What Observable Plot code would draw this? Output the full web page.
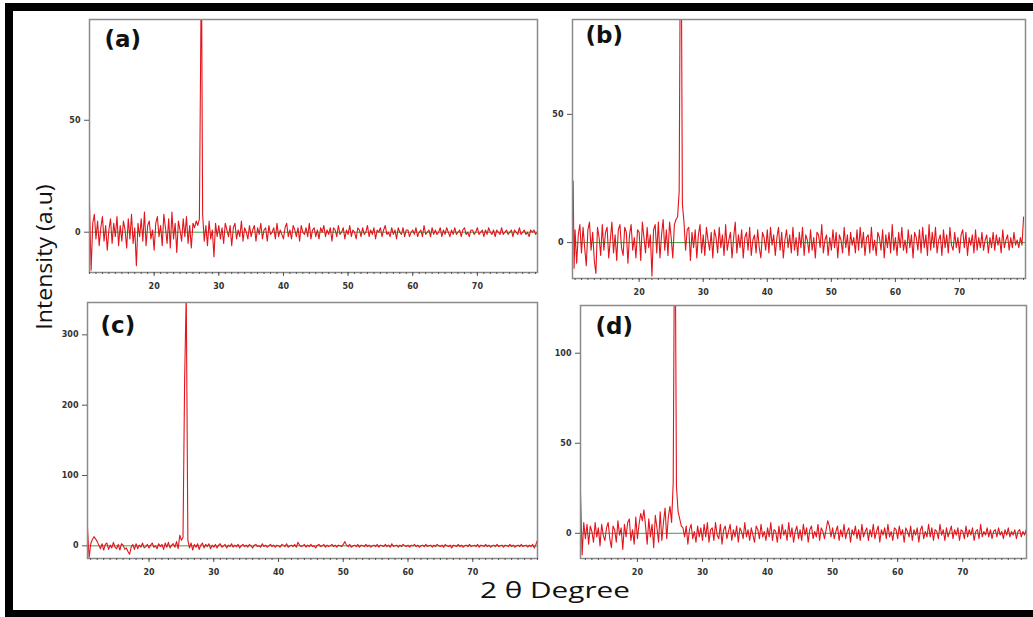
<!DOCTYPE html>
<html>
<head>
<meta charset="utf-8">
<script src="https://cdn.jsdelivr.net/npm/d3@7"></script>
<script src="https://cdn.jsdelivr.net/npm/@observablehq/plot@0.6"></script>
<style>
  html, body { margin: 0; padding: 0; background: #fff; overflow: hidden; }
  #root { position: relative; width: 1033px; height: 617px; background: #fff; overflow: hidden; }
  #border { position: absolute; left: 5px; top: 3px; width: 1200px; height: 599px;
            border-left: 8px solid #000; border-top: 8px solid #000; border-bottom: 7px solid #000; }
  .panel { position: absolute; }
  #titles { position: absolute; left: 0; top: 0; pointer-events: none; }
</style>
</head>
<body>
<div id="root">
  <div id="border"></div>
</div>
<script>
// 2θ sampling grid (degrees), 0.25° step from 10 to 80
const twoTheta = d3.range(10, 80.1, 0.25);

// Intensities (a.u.), one value per grid point (rows = 5°)
const intensityA = [
  12,-17,4,8,-3,5,-6,2,7,-4,3,-8,1,6,-5,4,-2,7,-6,3,
  -4,5,1,-7,6,-3,8,-5,2,-15,4,-2,6,-4,9,-6,3,5,-3,1,
  -8,4,7,-2,3,-6,8,2,-5,6,-7,9,-3,4,-9,5,1,-4,6,-2,
  7,-5,3,-7,4,2,5,3,6,100,8,-4,3,-6,5,-3,1,-11,4,-2,
  3,-3,2,-5,4,1,-2,3,-6,2,4,-3,1,-2,5,-4,2,0,-3,3,
  -2,1,3,-4,2,-1,4,-3,1,2,-4,3,-1,0,2,-3,4,-2,1,-1,
  -3,2,4,-2,1,-3,3,1,-2,2,-4,3,0,-1,2,-2,4,-3,1,2,
  -2,1,-3,2,0,3,-2,1,-1,2,-4,2,1,-2,3,-1,0,2,-3,1,
  -1,3,-2,1,0,-3,2,1,-2,2,-1,0,3,-2,1,-1,2,-3,1,0,
  2,-2,1,3,-1,0,-2,2,-1,1,-3,2,0,-1,2,-2,1,1,-2,0,
  1,-1,2,-2,0,1,-2,3,-1,0,1,-2,2,-1,1,-1,0,2,-2,1,
  -1,2,0,-2,1,-1,2,-1,0,1,-2,1,2,-1,0,-2,1,1,-1,0,
  2,-1,0,1,-2,1,-1,2,0,-1,1,-2,1,0,-1,2,-1,0,1,-1,
  0,1,-2,1,0,-1,2,-1,0,1,-1,0,-2,1,0,1,-1,0,1,-1,
  0
];
const intensityB = [
  5,-8,3,7,-4,6,-2,-9,5,8,-3,4,-7,-12,6,2,-5,7,-3,4,
  6,-6,1,8,-4,3,-7,5,7,-2,-5,6,4,-8,3,7,-3,2,-6,5,
  4,-7,8,2,-4,6,-2,3,-13,5,7,-4,8,-6,3,9,-3,5,-5,8,
  2,-6,7,9,10,20,100,15,8,-3,5,6,-7,4,-2,5,-6,3,7,-4,
  3,-5,6,1,-3,4,-6,5,2,-4,6,-2,3,-5,7,-3,1,4,-6,2,
  8,-4,3,-2,5,-6,2,4,-3,6,-5,1,3,-4,5,-2,-6,4,2,-3,
  5,-4,6,-1,3,-5,2,6,-3,4,-6,1,5,-2,3,-4,6,-3,2,-5,
  4,-2,6,-5,3,1,-4,5,-3,2,-6,4,3,-2,7,-4,1,3,-5,2,
  -3,5,-2,4,-6,3,1,-4,6,-2,3,-5,4,-1,2,-4,5,-3,6,-2,
  4,-5,2,3,-4,6,-3,1,-5,4,2,-3,5,-6,3,-2,4,-4,7,-3,
  2,-5,4,-2,6,-3,1,-4,5,-2,3,-6,4,2,-3,5,-4,6,-2,3,
  -5,7,-3,4,-2,6,-4,1,3,-5,5,-2,3,-4,6,-1,-3,4,-2,2,
  -4,3,5,-2,4,-5,2,-1,3,-4,5,-3,2,-2,4,-3,1,3,-4,2,
  -2,4,-3,3,-1,2,-4,5,-2,1,3,-3,2,-2,4,-1,1,-2,2,-1,
  10
];
const intensityC = [
  0,0,25,-17,3,9,13,10,6,1,-4,3,-6,2,4,-5,1,-3,5,-2,
  -4,2,-6,3,1,-5,-3,-8,-12,-2,2,-5,3,-4,1,-2,4,-3,-1,2,
  -3,1,4,-2,0,-4,3,-1,2,-5,4,-2,5,-3,1,3,-2,6,-4,15,
  8,12,235,360,8,-3,4,-6,2,-2,3,-5,1,4,-3,2,-1,3,-4,1,
  -2,2,-3,1,3,-2,0,2,-3,1,-1,3,-2,1,-1,2,-3,0,2,-1,
  1,-2,2,0,-3,1,2,-1,0,-2,3,-1,1,-2,0,2,-1,1,-2,1,
  0,-2,2,1,-1,3,-2,0,1,-1,2,-2,5,1,-1,0,2,-2,1,-1,
  2,-1,0,-3,1,2,-1,0,2,-2,1,-1,0,2,-1,1,-2,1,0,-1,
  2,6,1,-1,2,-2,0,1,-1,2,-2,1,0,-1,2,-1,1,-2,0,1,
  -1,2,-2,1,0,-1,2,-1,1,-2,3,-1,0,1,-2,1,-1,2,0,-1,
  1,-2,1,0,2,-1,1,-2,0,1,-1,2,-1,0,1,-2,1,-1,2,0,
  -1,1,-2,2,0,-1,1,-3,1,0,-1,2,-1,1,-2,0,1,-1,2,-1,
  0,1,-1,2,-2,1,0,-1,2,-1,1,-2,0,1,-1,2,-1,0,1,-2,
  1,0,-1,2,-1,1,-2,0,1,-1,2,-1,0,1,-2,1,-1,2,-3,2,
  8
];
const intensityD = [
  0,0,0,0,0,22,-12,6,-3,5,-6,4,1,-5,6,-2,3,-7,5,-1,
  -4,3,6,-3,-8,4,2,-5,7,-1,3,-9,5,-2,6,8,-4,2,-6,9,
  -3,5,11,7,13,4,-6,8,-2,5,-8,10,3,-5,12,-4,6,14,-3,9,
  15,6,28,135,26,12,8,4,3,-2,4,-6,2,5,-3,1,-5,4,-2,3,
  -4,5,-2,6,-5,2,3,-4,6,-1,-3,5,-6,2,4,-3,1,5,-4,2,
  -2,4,-5,3,1,-3,6,-2,2,-4,3,-1,-5,4,2,-3,5,-2,1,-4,
  3,-2,6,-4,2,1,-5,4,-3,5,-1,2,-4,6,-2,3,-5,1,4,-3,
  2,-4,5,-1,3,-5,2,4,-3,1,-2,5,-4,3,1,-3,2,7,4,-2,
  3,-3,1,4,-4,2,-2,5,-3,1,3,-5,2,-1,4,-3,2,-4,5,-2,
  1,3,-4,2,-2,5,-3,1,4,-5,2,-1,3,-3,5,-2,1,-4,3,2,
  -3,4,-1,2,-5,3,1,-2,4,-4,2,-1,3,-5,2,4,-3,1,-2,5,
  -2,3,-4,2,1,-3,5,-1,2,-4,3,-2,1,4,-3,2,-1,3,-4,2,
  1,-3,4,-2,2,-1,3,-4,1,2,-3,5,-2,1,-1,3,-2,2,-3,1,
  2,-2,3,-1,1,-3,2,-1,3,-2,1,-1,2,-3,1,2,-2,1,-1,2,
  0
];

// Extra off-grid readings (2θ, intensity): edge spikes and peak tops
const extraA = [[27.35, 100]];
const extraB = [[9.7, 24], [9.85, -10], [26.4, 100], [26.6, 100]];
const extraC = [];
const extraD = [[25.65, 135], [25.85, 135]];

const panelLabels = ["(a)", "(b)", "(c)", "(d)"];
const xTickLabels = [20, 30, 40, 50, 60, 70];
const yTicksA = [0, 50];
const yTicksB = [0, 50];
const yTicksC = [0, 100, 200, 300];
const yTicksD = [0, 50, 100];

function series(values, extra) {
  if (values.length !== twoTheta.length) throw new Error("length " + values.length + " vs " + twoTheta.length);
  return values.map((v, i) => ({t: twoTheta[i], v}))
    .concat(extra.map(([t, v]) => ({t, v})))
    .sort((a, b) => a.t - b.t);
}

const ML = 45, MT = 5, MR = 5, MB = 30;

function panel({frame, xDomain, yDomain, data, yTicks, label, ldx, ldy}) {
  const [L, T, R, B] = frame;
  const width = (R - L) + ML + MR;
  const height = (B - T) + MT + MB;
  const minor = d3.range(Math.ceil(xDomain[0]), Math.floor(xDomain[1]) + 1);
  const chart = Plot.plot({
    width, height,
    marginLeft: ML, marginTop: MT, marginRight: MR, marginBottom: MB,
    x: {domain: xDomain},
    y: {domain: yDomain},
    style: {background: "transparent", fontFamily: "DejaVu Sans", fontSize: "8px", fontWeight: "bold", color: "#333", overflow: "visible"},
    marks: [
      Plot.ruleY([0], {stroke: "#3f9f3f", strokeWidth: 1}),
      Plot.line(data, {x: "t", y: "v", stroke: "#e3141c", strokeWidth: 1.1, clip: true}),
      Plot.frame({stroke: "#8a8a8a", strokeWidth: 1.5}),
      Plot.axisX({ticks: minor, tickSize: 2, text: null, label: null, stroke: "#555"}),
      Plot.axisX({ticks: xTickLabels, tickSize: 4, tickPadding: 7, label: null, stroke: "#555", fill: "#333"}),
      Plot.axisY({ticks: yTicks, tickSize: 5, tickPadding: 4, label: null, stroke: "#555", fill: "#333"}),
      Plot.text([label], {frameAnchor: "top-left", textAnchor: "start", lineAnchor: "top",
        dx: ldx, dy: ldy, fontSize: 23, fontWeight: "bold", fontFamily: "DejaVu Sans", fill: "#111"})
    ]
  });
  const wrap = document.createElement("div");
  wrap.className = "panel";
  wrap.style.left = (L - ML) + "px";
  wrap.style.top = (T - MT) + "px";
  wrap.appendChild(chart);
  document.getElementById("root").appendChild(wrap);
}

panel({frame: [89, 19, 537, 272], xDomain: [10, 79.3], yDomain: [-18, 95],
  data: series(intensityA, extraA), yTicks: yTicksA, label: panelLabels[0], ldx: 15, ldy: 11});
panel({frame: [572, 19, 1025, 278], xDomain: [9.6, 80.3], yDomain: [-14, 87],
  data: series(intensityB, extraB), yTicks: yTicksB, label: panelLabels[1], ldx: 13, ldy: 7});
panel({frame: [87, 302, 537, 558], xDomain: [10.5, 80], yDomain: [-18, 346],
  data: series(intensityC, extraC), yTicks: yTicksC, label: panelLabels[2], ldx: 13, ldy: 14});
panel({frame: [580, 305, 1026, 558], xDomain: [11.25, 79.8], yDomain: [-14, 126.5],
  data: series(intensityD, extraD), yTicks: yTicksD, label: panelLabels[3], ldx: 15, ldy: 12});

// Axis titles
const svgNS = "http://www.w3.org/2000/svg";
const titles = document.createElementNS(svgNS, "svg");
titles.setAttribute("id", "titles");
titles.setAttribute("width", 1033);
titles.setAttribute("height", 617);
function addText(str, x, y, rot, sx) {
  const t = document.createElementNS(svgNS, "text");
  t.textContent = str;
  t.setAttribute("text-anchor", "middle");
  t.setAttribute("font-family", "Open Sans");
  t.setAttribute("font-size", "22");
  t.setAttribute("fill", "#111");
  t.setAttribute("transform", `translate(${x},${y}) rotate(${rot}) scale(${sx},1)`);
  titles.appendChild(t);
}
addText("Intensity (a.u)", 52, 257, -90, 1.05);
addText("2 θ Degree", 555, 598, 0, 1.35);
document.getElementById("root").appendChild(titles);
</script>
</body>
</html>
